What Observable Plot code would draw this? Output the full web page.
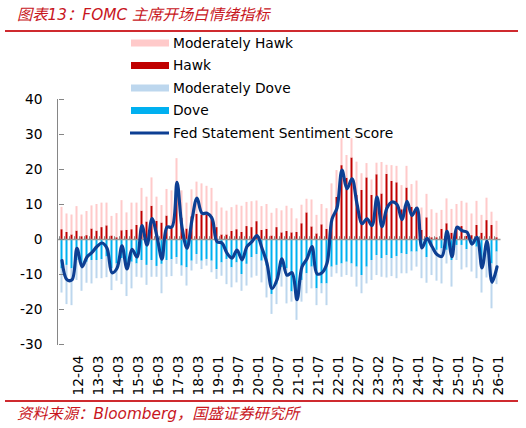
<!DOCTYPE html>
<html>
<head>
<meta charset="utf-8">
<script src="https://cdn.jsdelivr.net/npm/d3@7"></script>
<script src="https://cdn.jsdelivr.net/npm/@observablehq/plot@0.6"></script>
<style>
  html, body { margin: 0; padding: 0; background: #fff; }
  #chart { position: relative; width: 526px; height: 428px; overflow: hidden; }
</style>
</head>
<body>
<div id="chart"></div>
<script>
// Meeting categories (press-conference FOMC meetings, YY-MM)
const dates = [
  "11-06","11-11",
  "12-01","12-04","12-06","12-09","12-12",
  "13-03","13-06","13-09","13-12",
  "14-03","14-06","14-09","14-12",
  "15-03","15-06","15-09","15-12",
  "16-03","16-06","16-09","16-12",
  "17-03","17-06","17-09","17-12",
  "18-03","18-06","18-09","18-12",
  "19-01","19-03","19-05","19-06","19-07","19-09","19-10","19-12",
  "20-01","20-03","20-04","20-06","20-07","20-09","20-11","20-12",
  "21-01","21-03","21-04","21-06","21-07","21-09","21-11","21-12",
  "22-01","22-03","22-05","22-06","22-07","22-09","22-11","22-12",
  "23-02","23-03","23-05","23-06","23-07","23-09","23-11","23-12",
  "24-01","24-03","24-05","24-06","24-07","24-09","24-11","24-12",
  "25-01","25-03","25-05","25-06","25-07","25-09","25-10","25-12",
  "26-01"
];

// Axis tick labels
const tickLabels = ["12-04","13-03","14-03","15-03","16-03","17-03","18-03","19-01","19-07","20-01","20-07",
  "21-01","21-07","22-01","22-07","23-02","23-07","24-01","24-07","25-01","25-07","26-01"];
const yTicks = [-30, -20, -10, 0, 10, 20, 30, 40];

// Series values (stacked segments)
const hawk = [
  2.8,2.0,1.3,2.4,0.8,1.1,3.0,2.4,3.4,3.9,
  1.0,0.5,2.5,2.6,2.8,4.0,8.1,5.0,9.5,5.2,
  4.7,6.7,3.2,15.8,6.1,3.0,6.5,7.2,7.0,6.9,
  6.6,3.4,1.3,1.3,2.3,2.8,2.0,3.7,3.4,5.1,
  2.6,2.9,1.0,3.4,1.9,2.3,1.9,2.0,4.5,7.6,
  3.6,1.6,4.2,2.9,5.0,12.0,21.1,17.5,23.3,12.6,
  14.0,17.6,12.6,18.5,13.0,18.6,16.6,16.2,8.5,14.7,
  9.2,9.2,2.6,6.2,0.5,0.5,2.9,4.5,1.8,3.5,
  3.7,0.9,1.1,4.0,1.8,5.4,4.0,0.5
];
const moderatelyHawk = [
  6.4,5.3,5.7,7.0,6.2,6.9,6.6,7.6,7.0,6.5,
  5.6,6.9,8.6,5.0,7.6,6.4,6.5,7.1,8.1,6.9,
  5.0,7.6,10.7,7.3,7.8,7.4,7.7,9.2,8.9,8.3,
  8.0,7.4,7.7,6.8,6.8,7.0,7.5,6.9,7.4,5.9,
  6.8,7.1,6.5,5.4,6.3,7.2,6.9,3.9,5.3,3.9,
  7.7,5.3,5.8,5.9,10.9,7.7,7.7,6.5,5.5,9.5,
  4.8,4.1,4.4,3.3,9.0,2.6,4.5,4.7,6.9,6.2,
  6.5,7.5,6.4,6.7,8.0,7.0,5.4,7.1,6.8,6.5,
  7.2,9.5,6.2,6.9,5.1,6.4,3.8,4.7
];
const dove = [
  -8.4,-7.4,-8.4,-6.0,-7.9,-6.5,-6.0,-6.0,-5.8,-5.0,
  -8.4,-7.0,-5.5,-7.4,-6.5,-7.0,-6.0,-7.4,-6.0,-7.7,
  -7.1,-6.0,-5.8,-5.2,-7.6,-8.1,-6.2,-4.3,-6.2,-5.7,
  -6.2,-8.6,-6.7,-5.7,-8.1,-6.7,-10.0,-7.1,-5.2,-4.3,
  -6.2,-7.6,-15.7,-13.0,-8.0,-8.4,-15.0,-16.0,-11.7,-9.8,
  -7.9,-14.1,-12.7,-12.7,-7.9,-7.4,-7.0,-6.5,-7.0,-7.9,
  -10.3,-7.9,-6.0,-4.6,-5.5,-4.6,-5.5,-4.9,-4.1,-4.3,
  -3.6,-3.6,-2.2,-5.2,-2.2,-3.1,-2.7,-3.1,-6.0,-1.7,
  -1.7,-2.9,-1.7,-2.2,-6.0,-2.2,-7.0,-3.6
];
const moderatelyDove = [
  -6.9,-11.2,-10.5,-5.7,-6.9,-6.0,-6.7,-5.2,-5.4,-5.9,
  -6.2,-4.9,-7.4,-8.9,-7.6,-3.8,-5.0,-5.7,-4.8,-3.1,
  -8.4,-4.8,-4.8,-1.9,-2.9,-5.2,-2.8,-2.8,-2.4,-1.9,
  -3.3,-2.8,-3.8,-7.2,-5.7,-5.7,-4.8,-6.2,-5.8,-6.2,
  -6.2,-9.1,-5.7,-5.6,-5.6,-10.0,-2.9,-7.1,-6.2,-5.7,
  -6.2,-4.8,-2.8,-6.2,-2.9,-2.4,-3.8,-3.8,-3.8,-5.7,
  -5.2,-4.8,-5.7,-5.7,-5.3,-6.4,-5.1,-6.3,-5.7,-5.5,
  -5.4,-4.3,-9.0,-7.3,-8.1,-8.8,-10.0,-3.9,-7.6,-4.3,
  -7.0,-5.2,-7.6,-9.0,-9.3,-8.8,-12.8,-9.3
];
const sentimentScore = [
  -6.0,-11.5,-11.5,-2.5,-7.8,-5.0,-3.7,-2.0,-1.0,-2.5,
  -9.5,-8.2,-1.8,-8.4,-2.8,-5.0,4.0,-1.6,6.0,0.8,
  -5.6,3.5,3.6,16.3,3.5,-2.5,5.6,11.8,7.5,7.5,
  6.1,-0.6,-1.0,-3.9,-5.3,-3.0,-5.8,-2.0,-0.6,1.1,
  -2.5,-6.8,-14.0,-11.5,-5.5,-10.2,-9.5,-17.2,-7.8,-5.5,
  -2.0,-9.8,-9.5,-6.8,5.8,9.0,19.8,14.5,17.3,10.2,
  4.5,5.9,4.0,12.1,3.7,9.0,10.7,10.0,5.7,10.9,
  6.9,9.0,-2.4,0.3,-2.0,-4.3,-4.8,2.3,-4.9,3.5,
  2.5,2.1,-1.3,0.6,-8.1,-0.5,-12.2,-7.8
];

const seriesNames = ["Moderately Hawk", "Hawk", "Moderately Dove", "Dove"];
const seriesColors = ["#ffcaca", "#c00000", "#bdd7ee", "#00b0f0"];
const lineName = "Fed Statement Sentiment Score";
const lineColor = "#0d3f93";

// stacking order: Hawk, Moderately Hawk (positive); Dove, Moderately Dove (negative)
const rows = [];
[["Hawk", hawk], ["Moderately Hawk", moderatelyHawk], ["Dove", dove], ["Moderately Dove", moderatelyDove]]
  .forEach(([name, vals]) => vals.forEach((v, i) => rows.push({date: dates[i], series: name, value: v})));
const lineData = dates.map((d, i) => ({date: d, score: sentimentScore[i]}));

const axisGray = "#868686";
const plot = Plot.plot({
  width: 526,
  height: 428,
  marginTop: 99,
  marginBottom: 84,
  marginLeft: 57,
  marginRight: 25.5,
  x: {type: "band", domain: dates, padding: 0, label: null},
  y: {domain: [-30, 40], label: null},
  color: {domain: seriesNames, range: seriesColors},
  style: {fontFamily: "DejaVu Sans", fontSize: "13.8px", color: "#000", background: "transparent", overflow: "visible"},
  marks: [
    Plot.barY(rows, {x: "date", y: "value", fill: "series", insetLeft: 1.5, insetRight: 1.5}),
    Plot.ruleY([0], {stroke: "#9a9a9a", strokeWidth: 1.6}),
    Plot.ruleX(dates, {x: d => d, y1: 0, y2: 0.8, dx: -2.5, stroke: "#8a8a8a", strokeWidth: 1}),
    Plot.frame({anchor: "left", stroke: axisGray}),
    Plot.tickY(yTicks, {y: d => d, x: () => dates[0], stroke: axisGray}),
    Plot.line(lineData, {x: "date", y: "score", curve: "catmull-rom", stroke: lineColor, strokeWidth: 3.2}),
    Plot.axisY({ticks: yTicks, tickSize: 0, tickPadding: 15, tickFormat: d => d, label: null}),
    Plot.axisX({ticks: tickLabels, tickSize: 0, tickRotate: -90, tickPadding: 11, dx: 1.5, label: null})
  ]
});
document.getElementById("chart").appendChild(plot);

// Decorations: title, red rules, legend, source
const svg = d3.select(plot);
const red = "#c8161d";
const cjk = "'DejaVu Sans', 'Noto Sans CJK SC', sans-serif";
svg.append("text").attr("x", 17).attr("y", 19.5).attr("text-anchor", "start")
  .attr("fill", red).attr("font-style", "italic").attr("font-size", 15.3)
  .attr("font-family", cjk).text("图表13：FOMC 主席开场白情绪指标");
svg.append("line").attr("x1", 5).attr("x2", 518).attr("y1", 31).attr("y2", 31)
  .attr("stroke", "#cf2a2f").attr("stroke-width", 2);
svg.append("line").attr("x1", 5).attr("x2", 518).attr("y1", 401).attr("y2", 401)
  .attr("stroke", "#cf2a2f").attr("stroke-width", 2);
svg.append("text").attr("x", 17).attr("y", 419).attr("text-anchor", "start")
  .attr("fill", red).attr("font-style", "italic").attr("font-size", 15.3)
  .attr("font-family", cjk).text("资料来源：Bloomberg，国盛证券研究所");

const legendItems = [
  {name: seriesNames[0], color: seriesColors[0], cy: 43, type: "rect"},
  {name: seriesNames[1], color: seriesColors[1], cy: 65.5, type: "rect"},
  {name: seriesNames[2], color: seriesColors[2], cy: 88, type: "rect"},
  {name: seriesNames[3], color: seriesColors[3], cy: 110.5, type: "rect"},
  {name: lineName, color: lineColor, cy: 133, type: "line"}
];
const lg = svg.append("g").attr("text-anchor", "start");
legendItems.forEach(it => {
  if (it.type === "rect") {
    lg.append("rect").attr("x", 131).attr("y", it.cy - 3.5).attr("width", 38).attr("height", 7).attr("fill", it.color);
  } else {
    lg.append("line").attr("x1", 130).attr("x2", 169).attr("y1", it.cy).attr("y2", it.cy)
      .attr("stroke", it.color).attr("stroke-width", 2.8);
  }
  lg.append("text").attr("x", 173).attr("y", it.cy).attr("dy", "0.36em").attr("text-anchor", "start")
    .attr("font-family", "DejaVu Sans").attr("font-size", 13.8).attr("fill", "#000").text(it.name);
});
</script>
</body>
</html>
